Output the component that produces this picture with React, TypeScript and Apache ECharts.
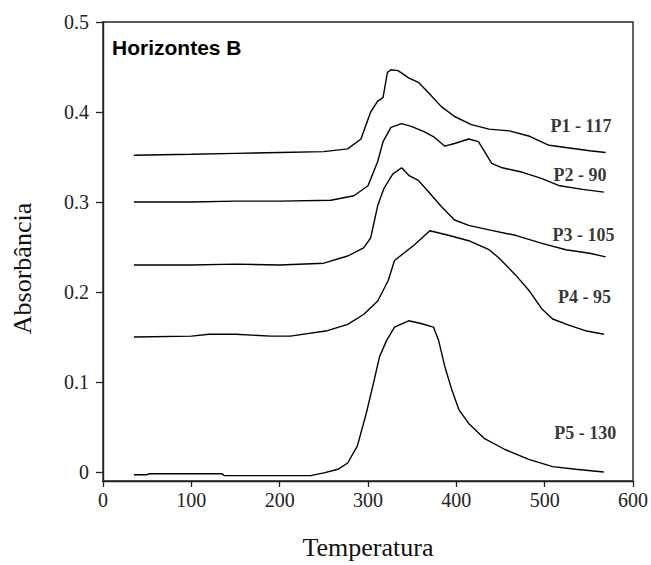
import React, { useEffect, useRef } from "react";
import * as echarts from "echarts";

// Temperature (x) vs absorbance (y) for each profile
const p1: [number, number][] = [
  [35, 0.352], [100, 0.353], [150, 0.354], [200, 0.355], [250, 0.356], [277, 0.359],
  [292, 0.37], [303, 0.4], [311, 0.412], [317, 0.416], [322, 0.444], [326, 0.447],
  [334, 0.446], [346, 0.438], [357, 0.433], [368, 0.422], [383, 0.406], [398, 0.395],
  [417, 0.386], [437, 0.381], [460, 0.379], [483, 0.373], [505, 0.363], [528, 0.36],
  [551, 0.357], [569, 0.355],
];
const p2: [number, number][] = [
  [35, 0.3], [100, 0.3], [150, 0.301], [200, 0.301], [258, 0.302], [284, 0.307],
  [300, 0.318], [311, 0.345], [317, 0.367], [326, 0.383], [338, 0.387], [349, 0.384],
  [364, 0.378], [375, 0.372], [387, 0.362], [398, 0.365], [414, 0.37], [425, 0.367],
  [432, 0.356], [440, 0.343], [452, 0.338], [475, 0.333], [497, 0.326], [517, 0.318],
  [543, 0.314], [567, 0.311],
];
const p3: [number, number][] = [
  [35, 0.23], [100, 0.23], [150, 0.231], [200, 0.23], [250, 0.232], [277, 0.24],
  [295, 0.249], [303, 0.26], [311, 0.296], [318, 0.315], [328, 0.331], [338, 0.338],
  [347, 0.329], [357, 0.324], [368, 0.312], [383, 0.295], [398, 0.28], [414, 0.274],
  [437, 0.269], [467, 0.263], [497, 0.254], [524, 0.247], [551, 0.243], [569, 0.239],
];
const p4: [number, number][] = [
  [35, 0.15], [100, 0.151], [120, 0.153], [150, 0.153], [190, 0.151], [212, 0.151],
  [254, 0.157], [277, 0.164], [295, 0.175], [311, 0.19], [323, 0.213], [330, 0.235],
  [352, 0.252], [370, 0.268], [391, 0.263], [414, 0.257], [437, 0.247], [448, 0.238],
  [467, 0.219], [482, 0.202], [497, 0.181], [509, 0.17], [528, 0.163], [546, 0.157],
  [567, 0.153],
];
const p5: [number, number][] = [
  [35, -0.003], [50, -0.003], [52, -0.002], [135, -0.002], [137, -0.004], [235, -0.004],
  [250, -0.001], [266, 0.003], [277, 0.01], [288, 0.029], [298, 0.065], [307, 0.102],
  [313, 0.128], [321, 0.146], [330, 0.161], [346, 0.168], [360, 0.165], [374, 0.161],
  [380, 0.146], [387, 0.117], [395, 0.091], [403, 0.069], [414, 0.054], [432, 0.037],
  [455, 0.025], [482, 0.014], [509, 0.006], [535, 0.003], [567, 0.0],
];

const seriesNames = ["P1 - 117", "P2 - 90", "P3 - 105", "P4 - 95", "P5 - 130"];
const labelX = [541, 540, 544, 545, 546];
const labelY = [0.384, 0.33, 0.263, 0.194, 0.043];

const xTicks = [0, 100, 200, 300, 400, 500, 600];
const yTicks = [0, 0.1, 0.2, 0.3, 0.4, 0.5];

export default function App() {
  const ref = useRef<HTMLDivElement>(null);
  useEffect(() => {
    if (!ref.current) return;
    const chart = echarts.init(ref.current, null, { renderer: "svg" });
    const serif = "'Liberation Serif', 'Times New Roman', serif";
    const all = [p1, p2, p3, p4, p5];
    chart.setOption({
      animation: false,
      backgroundColor: "#ffffff",
      title: {
        text: "Horizontes B",
        left: 112,
        top: 37,
        padding: 0,
        textStyle: {
          fontFamily: "'Liberation Sans', Arial, sans-serif",
          fontWeight: "bold",
          fontSize: 21,
          color: "#000",
        },
      },
      grid: {
        left: 103,
        right: 18,
        top: 22,
        bottom: 79,
        show: true,
        borderColor: "#222",
        borderWidth: 1.4,
        containLabel: false,
      },
      xAxis: {
        type: "value",
        min: xTicks[0],
        max: xTicks[xTicks.length - 1],
        interval: 100,
        name: "Temperatura",
        nameLocation: "middle",
        nameGap: 53,
        nameTextStyle: { fontFamily: serif, fontSize: 26, color: "#111" },
        axisLine: { show: true, onZero: false, lineStyle: { color: "#222", width: 1.4 } },
        axisTick: { show: true, inside: false, length: 6, lineStyle: { color: "#222", width: 1.3 } },
        axisLabel: { fontFamily: serif, fontSize: 20, color: "#222", margin: 9 },
        splitLine: { show: false },
      },
      yAxis: {
        type: "value",
        min: -0.01,
        max: 0.5,
        name: "Absorbância",
        nameLocation: "middle",
        nameGap: 68,
        nameTextStyle: { fontFamily: serif, fontSize: 26, color: "#111", padding: [0, 34, 0, 0] },
        axisLine: { show: true, onZero: false, lineStyle: { color: "#222", width: 1.4 } },
        axisTick: {
          show: true,
          inside: false,
          length: 7,
          customValues: yTicks,
          lineStyle: { color: "#222", width: 1.3 },
        },
        axisLabel: {
          fontFamily: serif,
          fontSize: 20,
          color: "#222",
          margin: 14,
          customValues: yTicks,
          formatter: (v: number) => (Math.abs(v) < 1e-9 ? "0" : v.toFixed(1)),
        },
        splitLine: { show: false },
      },
      series: [
        ...all.map((d, i) => ({
          name: seriesNames[i],
          type: "line",
          data: d,
          showSymbol: false,
          symbol: "none",
          lineStyle: { color: "#000", width: 1.4 },
          silent: true,
        })),
        {
          name: "labels",
          type: "scatter",
          symbolSize: 0,
          silent: true,
          data: seriesNames.map((n, i) => ({ value: [labelX[i], labelY[i]], name: n })),
          label: {
            show: true,
            position: "inside",
            formatter: (p: any) => p.name,
            fontFamily: serif,
            fontWeight: "bold",
            fontSize: 18,
            color: "#000",
          },
        },
      ],
    });
    return () => chart.dispose();
  }, []);
  return (
    <div
      ref={ref}
      style={{ position: "fixed", left: 0, top: 0, width: 651, height: 565 }}
    />
  );
}
